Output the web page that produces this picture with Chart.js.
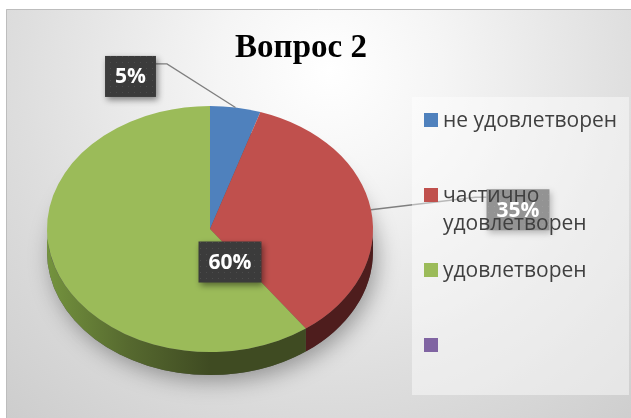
<!DOCTYPE html>
<html>
<head>
<meta charset="utf-8">
<script src="https://cdn.jsdelivr.net/npm/chart.js@4/dist/chart.umd.min.js"></script>
<style>
  html, body { margin: 0; padding: 0; background: #fff; }
  canvas { display: block; }
</style>
</head>
<body>
<canvas id="pie" width="631" height="418"></canvas>
<script>
// Вопрос 2 — доли ответов, %
const categories = ['не удовлетворен', 'частично удовлетворен', 'удовлетворен', ''];
const shares = [5, 35, 60, 0];
const chartTitle = 'Вопрос 2';

const TOP_COLORS = ['#4f81bd', '#c0504d', '#9bbb59', '#8064a2'];
const SIDE_COLORS = ['#2f4d73', '#4e1d1d', '#43512a', '#4c3c61'];

const TILT = 0.755;   // vertical squash of the pie
const ELLIPSE_CY = 229;
const DEPTH = 23;

// label boxes: outside ones get a leader line
const labelPlace = [
  { dx: -105, dy: -31, leader: 'left' },
  { dx: 147, dy: 0, leader: 'right' },
  { inside: true, dx: 20, dy: 33 },
  null
];

function dotPattern(ctx) {
  const c = document.createElement('canvas');
  c.width = 6; c.height = 6;
  const g = c.getContext('2d');
  g.fillStyle = '#3b3b3b'; g.fillRect(0, 0, 6, 6);
  g.fillStyle = '#4c4c4c'; g.fillRect(2, 2, 1, 1);
  return ctx.createPattern(c, 'repeat');
}

const pie3d = {
  id: 'pie3d',
  beforeDraw(chart) {
    const ctx = chart.ctx;
    ctx.save();
    ctx.fillStyle = '#fff';
    ctx.fillRect(0, 0, chart.width, chart.height);
    const g = ctx.createRadialGradient(330, 70, 0, 330, 70, 560);
    g.addColorStop(0, '#ffffff');
    g.addColorStop(0.2, '#f5f5f5');
    g.addColorStop(0.55, '#dedede');
    g.addColorStop(1, '#c4c4c4');
    ctx.fillStyle = g;
    ctx.fillRect(6, 9, chart.width - 6, chart.height - 9);
    ctx.strokeStyle = '#bdbdbd';
    ctx.lineWidth = 1;
    ctx.beginPath();
    ctx.moveTo(6.5, chart.height); ctx.lineTo(6.5, 9.5); ctx.lineTo(chart.width, 9.5);
    ctx.stroke();

    ctx.fillStyle = '#000';
    ctx.font = 'bold 33px "Liberation Serif"';
    ctx.textAlign = 'center';
    ctx.textBaseline = 'alphabetic';
    ctx.fillText(chartTitle, 301, 57);
    ctx.restore();
  },
  beforeDatasetsDraw(chart) {
    const ctx = chart.ctx;
    const arcs = chart.getDatasetMeta(0).data;
    const a0 = arcs[0];
    const cx = a0.x, R = a0.outerRadius, ry = R * TILT;

    // soft shadow under the pie
    ctx.save();
    ctx.shadowColor = 'rgba(0,0,0,0.35)';
    ctx.shadowBlur = 22;
    ctx.shadowOffsetY = 6;
    ctx.shadowOffsetX = 4;
    ctx.fillStyle = '#555';
    ctx.beginPath();
    ctx.ellipse(cx, ELLIPSE_CY + DEPTH, R, ry, 0, 0, Math.PI * 2);
    ctx.fill();
    ctx.restore();

    // side walls of the front half
    arcs.forEach((arc, i) => {
      const s = Math.max(arc.startAngle, 0);
      const e = Math.min(arc.endAngle, Math.PI);
      if (e <= s) return;
      ctx.save();
      ctx.beginPath();
      ctx.ellipse(cx, ELLIPSE_CY, R, ry, 0, s, e);
      ctx.ellipse(cx, ELLIPSE_CY + DEPTH, R, ry, 0, e, s, true);
      ctx.closePath();
      if (i === 2) {
        const lg = ctx.createLinearGradient(cx - R, 0, cx, 0);
        lg.addColorStop(0, '#74933e');
        lg.addColorStop(0.5, '#56692f');
        lg.addColorStop(1, '#3f4b22');
        ctx.fillStyle = lg;
      } else {
        ctx.fillStyle = SIDE_COLORS[i];
      }
      ctx.fill();
      ctx.restore();
    });

    // squash the top face into an ellipse
    ctx.save();
    ctx.translate(0, ELLIPSE_CY);
    ctx.scale(1, TILT);
    ctx.translate(0, -a0.y);
  },
  afterDatasetsDraw(chart) {
    const ctx = chart.ctx;
    ctx.restore();

    const arcs = chart.getDatasetMeta(0).data;
    const data = chart.data.datasets[0].data;
    const total = data.reduce((a, b) => a + b, 0);
    const cx = arcs[0].x, R = arcs[0].outerRadius, ry = R * TILT;
    const pat = dotPattern(ctx);

    ctx.save();
    ctx.font = 'bold 21px "Open Sans"';
    ctx.textAlign = 'center';
    ctx.textBaseline = 'middle';
    arcs.forEach((arc, i) => {
      const p = labelPlace[i];
      if (!p || !data[i]) return;
      const m = (arc.startAngle + arc.endAngle) / 2;
      const ax = cx + R * Math.cos(m), ay = ELLIPSE_CY + ry * Math.sin(m);
      const txt = Math.round(data[i] / total * 100) + '%';
      const w = ctx.measureText(txt).width + 20, h = 41;
      const bx = (p.inside ? cx : ax) + p.dx, by = (p.inside ? ELLIPSE_CY : ay) + p.dy;
      const left = bx - w / 2, top = by - h / 2;

      if (p.leader) {
        const edge = p.leader === 'left' ? left + w : left;
        const elbow = p.leader === 'left' ? edge + 11 : edge - 11;
        ctx.strokeStyle = '#7f7f7f';
        ctx.lineWidth = 1.3;
        ctx.beginPath();
        ctx.moveTo(ax, ay);
        ctx.lineTo(elbow, top + 8);
        ctx.lineTo(edge, top + 8);
        ctx.stroke();
      }
      ctx.save();
      ctx.shadowColor = 'rgba(0,0,0,0.45)';
      ctx.shadowBlur = 6;
      ctx.shadowOffsetX = 2;
      ctx.shadowOffsetY = 3;
      ctx.fillStyle = pat;
      ctx.fillRect(left, top, w, h);
      ctx.restore();
      ctx.fillStyle = '#fff';
      ctx.fillText(txt, bx, by + 1);
    });
    ctx.restore();

    // legend panel
    ctx.save();
    ctx.fillStyle = 'rgba(255,255,255,0.45)';
    ctx.fillRect(412, 97, 217, 298);
    ctx.font = '21px "Open Sans"';
    ctx.textAlign = 'left';
    ctx.textBaseline = 'alphabetic';
    const labels = chart.data.labels;
    const maxW = 180;
    labels.forEach((lab, i) => {
      const base = 127 + i * 75;
      ctx.fillStyle = TOP_COLORS[i];
      ctx.fillRect(424, base - 14, 14, 14);
      ctx.fillStyle = '#404040';
      const words = lab.split(' ');
      const lines = [];
      let cur = '';
      words.forEach(wd => {
        const t = cur ? cur + ' ' + wd : wd;
        if (cur && ctx.measureText(t).width > maxW) { lines.push(cur); cur = wd; } else cur = t;
      });
      if (cur) lines.push(cur);
      lines.forEach((ln, k) => ctx.fillText(ln, 443, base + k * 28));
    });
    ctx.restore();
  }
};

new Chart(document.getElementById('pie'), {
  type: 'pie',
  data: {
    labels: categories,
    datasets: [{
      data: shares,
      backgroundColor: TOP_COLORS,
      borderWidth: 0,
      clip: false
    }]
  },
  options: {
    responsive: false,
    animation: false,
    devicePixelRatio: 1,
    events: [],
    layout: { padding: { left: 47, right: 258, top: 40, bottom: 52 } },
    plugins: {
      legend: { display: false },
      title: { display: false },
      tooltip: { enabled: false }
    }
  },
  plugins: [pie3d]
});
</script>
</body>
</html>
